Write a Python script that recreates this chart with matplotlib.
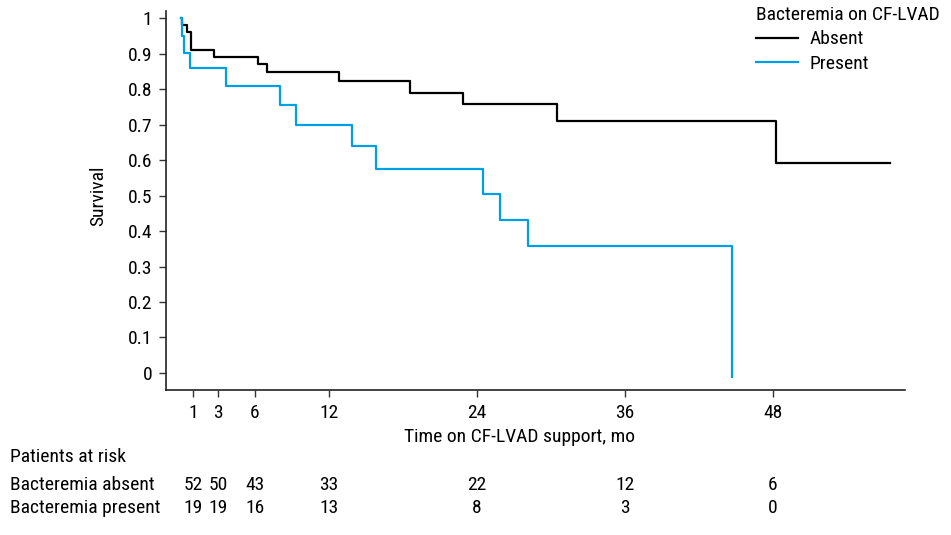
import matplotlib
matplotlib.use("Agg")
import matplotlib.pyplot as plt
import matplotlib.transforms as mtransforms

plt.rcParams['font.family'] = ['Roboto Condensed', 'DejaVu Sans']

# Kaplan-Meier step data (time in months, survival)
absent_t = [0, 0.1, 0.45, 0.78, 2.66, 6.23, 6.95, 12.8, 18.6, 22.9, 30.5, 48.2, 57.5]
absent_s = [1.0, 0.981, 0.962, 0.91, 0.891, 0.872, 0.849, 0.823, 0.79, 0.758, 0.711, 0.592, 0.592]
present_t = [0, 0.1, 0.27, 0.73, 3.65, 8.03, 9.33, 13.9, 15.8, 24.5, 25.9, 28.1, 44.7]
present_s = [1.0, 0.95, 0.903, 0.859, 0.808, 0.755, 0.70, 0.64, 0.575, 0.504, 0.432, 0.359, -0.01]

xticks = [1, 3, 6, 12, 24, 36, 48]
yticks = [0, 0.1, 0.2, 0.3, 0.4, 0.5, 0.6, 0.7, 0.8, 0.9, 1]
ytick_labels = ['0', '0.1', '0.2', '0.3', '0.4', '0.5', '0.6', '0.7', '0.8', '0.9', '1']
risk_absent = [52, 50, 43, 33, 22, 12, 6]
risk_present = [19, 19, 16, 13, 8, 3, 0]

FS = 14
W, H = 951, 535
fig = plt.figure(figsize=(W / 100, H / 100), dpi=100)
ax = fig.add_axes([166 / W, 1 - 390 / H, (905 - 166) / W, (390 - 11) / H])

black = '#000000'
blue = '#009fe3'
ax.step(absent_t, absent_s, where='post', color=black, lw=1.6, label='Absent')
ax.step(present_t, present_s, where='post', color=blue, lw=1.6, label='Present')

ax.set_xlim(-1.22, 58.7)
ax.set_ylim(-0.048, 1.02)
ax.set_xticks(xticks)
ax.set_xticklabels([str(v) for v in xticks], fontsize=FS)
ax.set_yticks(yticks)
ax.set_yticklabels(ytick_labels, fontsize=FS)
ax.tick_params(axis='both', direction='out', length=5, width=1, color='#333333', pad=5)
for side in ['top', 'right']:
    ax.spines[side].set_visible(False)
for side in ['left', 'bottom']:
    ax.spines[side].set_linewidth(1.2)
    ax.spines[side].set_color('#222222')

fig.text(98 / W, 1 - 196 / H, 'Survival', rotation=90, ha='center', va='center', fontsize=FS)
fig.text(520 / W, 1 - 437 / H, 'Time on CF-LVAD support, mo', ha='center', va='center', fontsize=FS)

leg = ax.legend(loc='upper left', bbox_to_anchor=(742 / W, 1 + 8 / H), bbox_transform=fig.transFigure,
                frameon=False, fontsize=FS, title='Bacteremia on CF-LVAD', title_fontsize=FS,
                handlelength=2.2, handletextpad=0.55, labelspacing=0.35, borderpad=0.2)
leg._legend_box.align = 'left'

fig.text(10 / W, 1 - 457 / H, 'Patients at risk', ha='left', va='center', fontsize=FS)
fig.text(10 / W, 1 - 485 / H, 'Bacteremia absent', ha='left', va='center', fontsize=FS)
fig.text(10 / W, 1 - 508 / H, 'Bacteremia present', ha='left', va='center', fontsize=FS)
trans = mtransforms.blended_transform_factory(ax.transData, fig.transFigure)
for t, a, p in zip(xticks, risk_absent, risk_present):
    ax.text(t, 1 - 485 / H, str(a), transform=trans, ha='center', va='center', fontsize=FS, clip_on=False)
    ax.text(t, 1 - 508 / H, str(p), transform=trans, ha='center', va='center', fontsize=FS, clip_on=False)

fig.savefig('out.png', dpi=100)
